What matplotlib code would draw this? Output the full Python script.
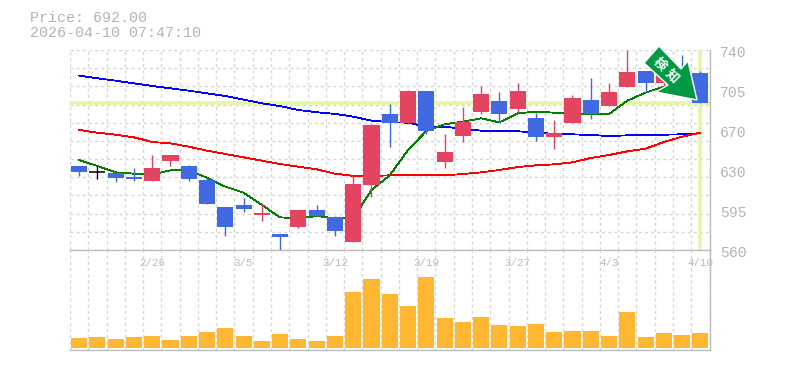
import matplotlib
matplotlib.use('Agg')
import matplotlib.pyplot as plt
import numpy as np
from matplotlib.patches import Polygon
from matplotlib.transforms import Affine2D

# candle values
opens = [635.6, 629.9, 629.3, 625.7, 622.1, 640.1, 635.6, 623.0, 598.7, 600.5, 591.5, 574.4,
         580.7, 596.0, 589.7, 567.2, 618.5, 682.4, 674.3, 703.1, 639.2, 662.6, 684.2, 694.1,
         686.9, 678.8, 661.7, 674.3, 695.0, 689.6, 706.7, 721.0, 710.0, 720.0, 719.3]
closes = [630.2, 629.9, 624.8, 623.9, 633.8, 645.5, 623.9, 601.4, 580.7, 596.9, 593.3, 571.7,
          596.0, 590.6, 577.1, 619.4, 672.5, 674.3, 703.1, 667.1, 648.2, 675.2, 700.4, 682.4,
          703.1, 661.7, 665.3, 696.8, 682.4, 702.2, 720.2, 710.3, 722.0, 708.0, 692.0]
highs = [635.6, 635.6, 629.3, 633.8, 645.5, 645.5, 636.5, 624.8, 598.7, 606.8, 602.3, 574.4,
         596.0, 600.5, 590.6, 627.5, 673.4, 691.4, 704.0, 703.1, 664.4, 688.7, 707.6, 702.2,
         710.3, 683.3, 677.0, 699.5, 714.8, 710.3, 740.0, 721.0, 724.0, 735.5, 721.0]
lows = [626.6, 623.9, 621.2, 622.1, 622.1, 635.6, 622.1, 601.4, 572.6, 594.2, 586.1, 559.4,
        579.8, 590.6, 572.6, 567.2, 607.7, 652.7, 673.4, 664.4, 633.8, 657.2, 682.4, 674.3,
        684.2, 658.1, 650.9, 674.3, 677.9, 689.6, 706.7, 702.2, 708.0, 708.0, 692.0]

ma_green = [641.0, 635.6, 629.9, 628.7, 628.0, 631.7, 631.7, 625.0, 617.0, 611.6, 600.5, 589.4,
            588.5, 590.6, 588.5, 588.5, 614.0, 627.2, 650.0, 667.1, 673.1, 675.5, 678.5, 674.9,
            683.0, 684.5, 683.6, 682.4, 682.4, 682.4, 694.4, 701.6, 707.0, 711.0, 707.0]
ma_red = [668.0, 665.6, 663.8, 661.4, 657.2, 656.0, 653.0, 649.4, 646.4, 643.4, 640.4, 637.4,
          635.0, 632.6, 628.7, 626.7, 626.6, 627.2, 627.8, 627.8, 627.2, 628.4, 629.9, 632.0,
          634.7, 636.2, 637.1, 638.9, 642.8, 645.5, 648.8, 651.2, 657.2, 662.0, 665.6]
ma_blue = [717.0, 714.5, 712.4, 710.0, 707.6, 705.5, 703.4, 701.0, 698.6, 695.3, 692.0, 689.5,
           686.0, 684.0, 682.5, 680.0, 676.4, 675.0, 674.6, 671.0, 671.0, 669.0, 667.4, 667.4,
           666.8, 665.9, 664.4, 664.1, 663.5, 662.6, 663.2, 663.2, 663.8, 664.1, 665.0]

volumes = [10, 11, 9, 11, 12, 8, 12, 16, 20, 12, 7, 14, 9, 7, 12, 56, 69, 54,
           42, 71, 30, 26, 31, 23, 22, 24, 16, 17, 17, 12, 36, 11, 15, 13, 15]

date_pos = [4, 9, 14, 19, 24, 29, 34]
date_labels = ['2/26', '3/5', '3/12', '3/19', '3/27', '4/3', '4/10']
price_ticks = [740, 704, 668, 632, 596, 560]
price_labels = ['740', '705', '670', '630', '595', '560']
last_price = 692.0

W, H = 785, 370
UP = '#e24462'
DOWN = '#4169e1'
HILITE = '#e4f7a8'
GREY = '#bbbbbb'
GRID = '#d6d6d6'
MONO = 'Liberation Mono'

fig = plt.figure(figsize=(W / 100, H / 100), dpi=100, facecolor='white')
ax = fig.add_axes([70 / W, 1 - 250 / H, 639.5 / W, 200 / H])
ax_vol = fig.add_axes([70 / W, 1 - 350 / H, 639.5 / W, 100 / H])
ax_vol.patch.set_visible(False)

xs = np.arange(len(opens))
edges = np.arange(len(opens) + 1) - 0.5

# pixel coordinates with origin top left, for the decorations
px = Affine2D().scale(1 / W, -1 / H).translate(0, 1) + fig.transFigure

for a in (ax, ax_vol):
    a.set_xlim(-0.5, len(opens) - 0.5)
    a.set_xticks(edges)
    a.tick_params(length=0, labelbottom=False, labelleft=False)
    a.grid(True, axis='x', color=GRID, linewidth=1.0, linestyle=(0, (2.2, 2.2)))
    a.set_axisbelow(True)
    a.spines['top'].set_visible(False)
    a.spines['left'].set_visible(False)
    a.spines['right'].set_color(GREY)
    a.spines['bottom'].set_color(GREY)
    a.spines['right'].set_linewidth(1.0)
    a.spines['bottom'].set_linewidth(1.0)

ax.set_ylim(560, 740)
ax.set_yticks(np.linspace(560, 740, 12))
ax.grid(True, axis='y', color=GRID, linewidth=1.0, linestyle=(0, (2.2, 2.2)))

ax.axhline(last_price, color=HILITE, linewidth=2.6, zorder=1)
ax.axvline(xs[-1], color=HILITE, linewidth=2.6, zorder=1)

ax.plot(xs, ma_blue, color='#0000ff', linewidth=0.6, antialiased=False, zorder=2)
ax.plot(xs, ma_red, color='#ff0000', linewidth=0.6, antialiased=False, zorder=2)
ax.plot(xs, ma_green, color='#008000', linewidth=0.6, antialiased=False, zorder=2)

# candles sit over the averages
for i in xs:
    o, c = opens[i], closes[i]
    col = UP if c > o else DOWN
    if c == o:
        col = 'black'
    ax.vlines(i, lows[i], highs[i], color=col, linewidth=1.0, zorder=3)
    if c == o:
        ax.hlines(c, i - 0.44, i + 0.44, color=col, linewidth=1.1, zorder=3)
    else:
        ax.bar(i, abs(c - o), bottom=min(o, c), width=0.88, color=col, linewidth=0, zorder=3)

ax_vol.set_ylim(-2, 98)
ax_vol.set_yticks([])
ax_vol.bar(xs, volumes, width=0.88, color='#ffb733', linewidth=0, zorder=3)

# arrow badge in the top right corner
arrow = Polygon([(659, 46), (644, 63), (668, 85), (656, 92), (697, 100), (688, 61), (681, 69)],
                closed=True, facecolor='#009944', edgecolor='white', linewidth=1.0,
                transform=px, zorder=10)
fig.add_artist(arrow)
fig.text(660, 64, '検', transform=px, color='white', fontsize=9.5, fontweight='bold', rotation=-45,
         ha='center', va='center', family=['Noto Sans CJK JP', 'DejaVu Sans'], zorder=11)
fig.text(672, 76, '知', transform=px, color='white', fontsize=9.5, fontweight='bold', rotation=-45,
         ha='center', va='center', family=['Noto Sans CJK JP', 'DejaVu Sans'], zorder=11)

# header
fig.text(29.5, 18, 'Price: 692.00', transform=px, color='#b4b4b4', fontsize=10.8, family=MONO, va='center')
fig.text(29.5, 33, '2026-04-10 07:47:10', transform=px, color='#b4b4b4', fontsize=10.8, family=MONO, va='center')

# price labels right of the panel
for p, lab in zip(price_ticks, price_labels):
    y = 250 - (p - 560) / 0.9 + 3
    fig.text(720, y, lab, transform=px, color='#b4b4b4', fontsize=10.6, family=MONO, va='center')

# date labels at the top of the volume panel
for i, lab in zip(date_pos, date_labels):
    ax_vol.text(i, 85, lab, color=GREY, fontsize=7.8, family=MONO, ha='center', va='center', zorder=4)

fig.savefig('out.png', dpi=100)
